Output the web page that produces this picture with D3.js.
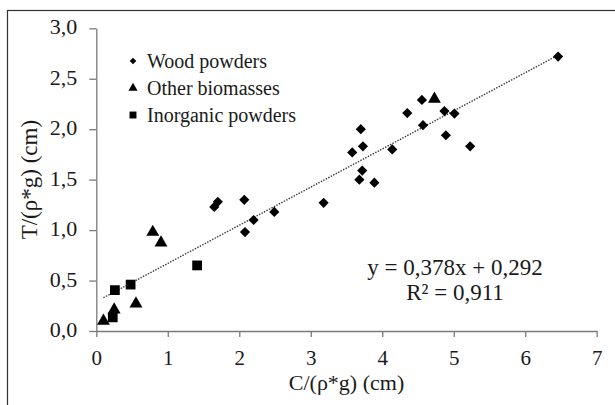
<!DOCTYPE html>
<html lang="en">
<meta charset="utf-8">
<title>T vs C scatter</title>
<style>
  body { margin: 0; background: #fff; }
  text { font-family: "Liberation Serif", "Times New Roman", serif; fill: #1a1a1a; }
</style>
<body>
<script src="https://d3js.org/d3.v7.min.js"></script>
<script>
  // data: [C/(rho*g), T/(rho*g)]
  var woodPowders = [
    [1.65, 1.23], [1.70, 1.28], [2.07, 1.30], [2.08, 0.98], [2.20, 1.10],
    [2.49, 1.18], [3.18, 1.27], [3.58, 1.77], [3.68, 1.50], [3.70, 2.00],
    [3.72, 1.59], [3.73, 1.83], [3.89, 1.47], [4.14, 1.80], [4.35, 2.16],
    [4.555, 2.29], [4.57, 2.04], [4.87, 2.18], [4.89, 1.94], [5.01, 2.155],
    [5.23, 1.83], [6.46, 2.72]
  ];
  var otherBiomasses = [
    [0.10, 0.10], [0.25, 0.21], [0.555, 0.27], [0.79, 0.98], [0.905, 0.875], [4.73, 2.30]
  ];
  var inorganicPowders = [
    [0.23, 0.135], [0.26, 0.405], [0.48, 0.46], [1.41, 0.65]
  ];
  var legendLabels = ["Wood powders", "Other biomasses", "Inorganic powders"];
  var xTicks = [0, 1, 2, 3, 4, 5, 6, 7];
  var yTicks = [0, 0.5, 1, 1.5, 2, 2.5, 3];
  var trendSlope = 0.378, trendIntercept = 0.292, trendRange = [0.10, 6.46];
  var equationLines = ["y = 0,378x + 0,292", "R\u00b2 = 0,911"];

  var width = 615, height = 405;
  var svg = d3.select("body").append("svg")
    .attr("width", width)
    .attr("height", height);

  // frame (cut off on the right and bottom in the original)
  svg.append("rect")
    .attr("x", 7.5).attr("y", 10.5)
    .attr("width", 700).attr("height", 500)
    .attr("fill", "none")
    .attr("stroke", "#333")
    .attr("stroke-width", 1.2);

  var x = d3.scaleLinear().domain([0, 7]).range([96.3, 596.7]);
  var y = d3.scaleLinear().domain([0, 3]).range([331, 28.3]);
  var comma = function(d) { return d3.format(".1f")(d).replace(".", ","); };

  // axes
  var xAxis = svg.append("g")
    .attr("transform", "translate(0," + y(0) + ")")
    .call(d3.axisBottom(x).tickValues(xTicks).tickSizeInner(6).tickSizeOuter(0).tickPadding(13.5)
      .tickFormat(d3.format("d")));
  var yAxis = svg.append("g")
    .attr("transform", "translate(" + x(0) + ",0)")
    .call(d3.axisLeft(y).tickValues(yTicks).tickSizeInner(7).tickSizeOuter(0).tickPadding(12)
      .tickFormat(comma));
  [xAxis, yAxis].forEach(function(g) {
    g.selectAll("path, line").attr("stroke", "#7a7a7a").attr("stroke-width", 1.3);
    g.selectAll("text").attr("font-family", "Liberation Serif").attr("fill", "#1a1a1a");
  });
  xAxis.selectAll("text").attr("font-size", 21);
  yAxis.selectAll("text").attr("font-size", 22).attr("dy", "0.25em");

  // axis titles
  svg.append("text")
    .attr("x", (x(0) + x(7)) / 2).attr("y", 390)
    .attr("text-anchor", "middle").attr("font-size", 22)
    .text("C/(\u03c1*g) (cm)");
  svg.append("text")
    .attr("transform", "translate(37," + (y(1.5)) + ") rotate(-90)")
    .attr("text-anchor", "middle").attr("font-size", 23)
    .text("T/(\u03c1*g) (cm)");

  // trend line
  svg.append("line")
    .attr("x1", x(trendRange[0])).attr("y1", y(trendSlope * trendRange[0] + trendIntercept))
    .attr("x2", x(trendRange[1])).attr("y2", y(trendSlope * trendRange[1] + trendIntercept))
    .attr("stroke", "#333")
    .attr("stroke-width", 1.4)
    .attr("stroke-dasharray", "1.4,1.4");

  var shapes = [d3.symbolDiamond2, d3.symbolTriangle, d3.symbolSquare];
  var sizes = [66, 72, 95];
  var groups = [woodPowders, otherBiomasses, inorganicPowders];

  groups.forEach(function(data, i) {
    svg.append("g").selectAll("path")
      .data(data)
      .join("path")
      .attr("transform", function(d) { return "translate(" + x(d[0]) + "," + y(d[1]) + ")"; })
      .attr("d", d3.symbol().type(shapes[i]).size(sizes[i]))
      .attr("fill", "#000");
  });

  // legend
  var legend = svg.append("g").attr("transform", "translate(133,61)");
  legendLabels.forEach(function(label, i) {
    var row = legend.append("g").attr("transform", "translate(0," + i * 27 + ")");
    row.append("path")
      .attr("d", d3.symbol().type(shapes[i]).size([28, 36, 48][i]))
      .attr("fill", "#000");
    row.append("text")
      .attr("x", 14).attr("dy", "0.35em")
      .attr("font-size", 20)
      .text(label);
  });

  // equation
  svg.append("g").selectAll("text")
    .data(equationLines)
    .join("text")
    .attr("x", 455).attr("y", function(d, i) { return 275 + i * 25; })
    .attr("text-anchor", "middle").attr("font-size", 23)
    .text(function(d) { return d; });
</script>
</body>
</html>
